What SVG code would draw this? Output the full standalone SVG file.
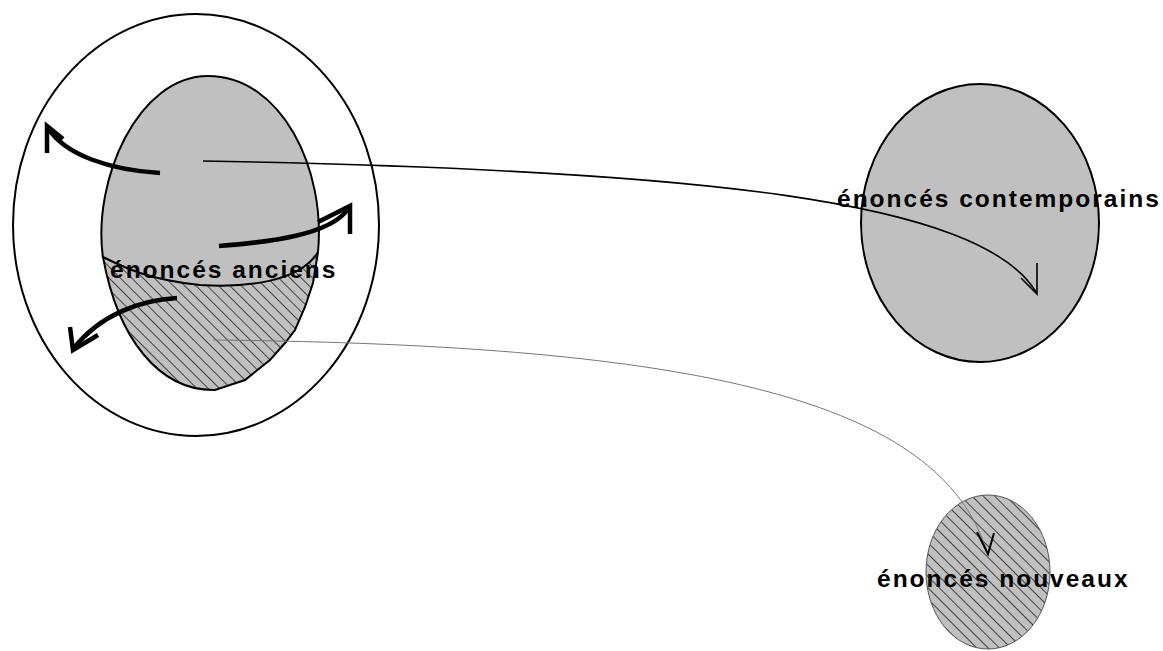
<svg xmlns="http://www.w3.org/2000/svg" width="1163" height="651" viewBox="0 0 1163 651">
<style>
.lbl{font-family:"Liberation Sans",Arial,sans-serif;font-weight:bold;font-size:24.5px;letter-spacing:2px;fill:#000}
.thick{fill:none;stroke:#000;stroke-width:4.5}
</style>
<defs>
<pattern id="hatch" width="8" height="8" patternUnits="userSpaceOnUse" patternTransform="rotate(-45)">
<rect width="8" height="8" fill="#c0c0c0"/>
<line x1="0" y1="0" x2="0" y2="8" stroke="#333" stroke-width="1.8"/>
</pattern>
</defs>
<rect width="1163" height="651" fill="#fff"/>
<g id="outer">
<ellipse cx="196" cy="225" rx="183" ry="211" fill="none" stroke="#000" stroke-width="2"/>
</g>
<g id="anciens">
<path d="M103,258 C 92,180 138,76 208,76 C 282,76 326,170 318,252 C 300,282 245,288 200,285 C 150,280 125,268 103,257 Z" fill="#c0c0c0" stroke="none"/>
<path d="M103,258 C 92,180 138,76 208,76 C 282,76 326,170 318,252" fill="none" stroke="#000" stroke-width="2"/>
<path d="M103,257 C 125,268 150,280 200,285 C 245,288 300,282 318,252 L313,283 L305,307 L295,330 L285,343 L270,360 L245,380 L215,390 C 160,391 118,340 103,257 Z" fill="url(#hatch)" stroke="#000" stroke-width="2"/>
<text class="lbl" x="110" y="278">énoncés anciens</text>
</g>
<g id="contemporains">
<ellipse cx="980" cy="223" rx="119" ry="139" fill="#c0c0c0" stroke="#000" stroke-width="2"/>
<text class="lbl" x="837" y="207">énoncés contemporains</text>
</g>
<g id="nouveaux">
<ellipse cx="988" cy="572" rx="62" ry="77" fill="url(#hatch)" stroke="#555" stroke-width="1"/>
<text class="lbl" x="877" y="587">énoncés nouveaux</text>
</g>
<g id="connectors">
<path class="thick" d="M160,173 C 110,170 65,155 48,128"/>
<path class="thick" d="M47,153 L47,126 L63,139"/>
<path class="thick" d="M219,246 C 270,242 330,235 348,209"/>
<path class="thick" d="M318,222 L350,206 L350,234"/>
<path class="thick" d="M177,298 C 140,300 100,315 74,348"/>
<path class="thick" d="M70,327 L73,350 L98,335"/>
<path d="M203,161 C 700,170 980,200 1036,292" fill="none" stroke="#000" stroke-width="1.6"/>
<path d="M1037,263 L1037,294 L1021,278" fill="none" stroke="#000" stroke-width="1.6"/>
<path d="M213,340 C 700,345 940,400 987,552" fill="none" stroke="#777" stroke-width="1"/>
<path d="M977,532 L988,554 L994,533" fill="none" stroke="#000" stroke-width="2"/>
</g>
</svg>
